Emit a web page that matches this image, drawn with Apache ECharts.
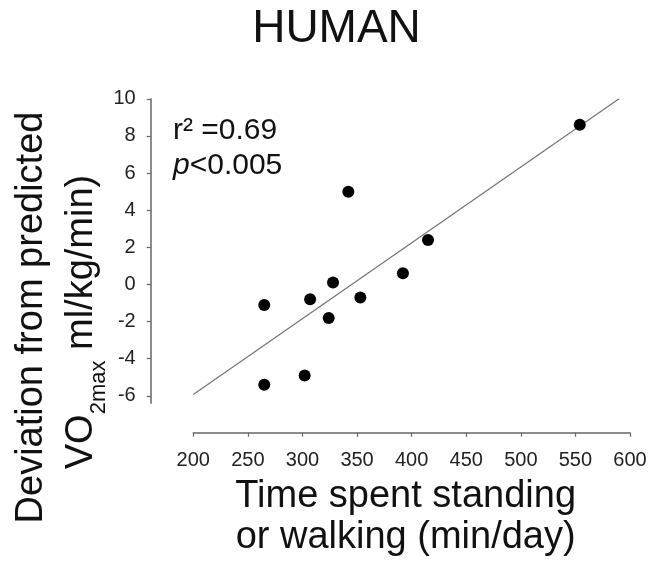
<!DOCTYPE html>
<html>
<head>
<meta charset="utf-8">
<script src="https://cdn.jsdelivr.net/npm/echarts@6/dist/echarts.min.js"></script>
<style>
html,body{margin:0;padding:0;background:#fff;}
#chart{width:658px;height:563px;}
</style>
</head>
<body>
<div id="chart"></div>
<script>
// ---- data ----
const timeStanding = [265, 265, 302, 307, 324, 328, 342, 353, 392, 415, 554];
const vo2Deviation = [-1.1, -5.4, -4.9, -0.8, -1.8, 0.1, 5.0, -0.7, 0.6, 2.4, 8.6];
const fitX = [200, 590];
const fitY = [-5.93, 10.0];
const yTickValues = [-6, -4, -2, 0, 2, 4, 6, 8, 10];
const titleText = 'HUMAN';
const statLine1 = 'r² =0.69';
const statLine2 = '{i|p}<0.005';
const xName = 'Time spent standing\nor walking (min/day)';
const yNameLine1 = 'Deviation from predicted';
const yNameLine2 = '{a|VO}{s|2max}{a| ml/kg/min)}';

const FONT = '"Liberation Sans", Arial, Helvetica, sans-serif';
const chart = echarts.init(document.getElementById('chart'), null, {renderer: 'canvas'});

const scatterData = timeStanding.map((x, i) => [x, vo2Deviation[i]]);
const fitData = fitX.map((x, i) => [x, fitY[i]]);

const option = {
  animation: false,
  backgroundColor: '#fff',
  textStyle: {fontFamily: FONT},
  grid: {left: 193.3, right: 28, top: 98.8, bottom: 159.7, containLabel: false},
  xAxis: {
    type: 'value', min: 200, max: 600, interval: 50, offset: 29.4,
    axisLine: {show: true, onZero: false, lineStyle: {color: '#666', width: 1.5}},
    axisTick: {show: true, length: 4, lineStyle: {color: '#666', width: 1.2}},
    axisLabel: {fontSize: 20, color: '#222', margin: 18, fontFamily: FONT},
    splitLine: {show: false},
    name: xName, nameLocation: 'middle', nameGap: 40,
    nameTextStyle: {fontSize: 38, lineHeight: 41, color: '#111', fontFamily: FONT, padding: [0, 12, 0, 0]}
  },
  yAxis: {
    type: 'value', min: -6.4, max: 10, offset: 42.6,
    axisLine: {show: true, onZero: false, lineStyle: {color: '#666', width: 1.5}},
    axisTick: {show: true, length: 4, customValues: yTickValues, lineStyle: {color: '#666', width: 1.2}},
    axisLabel: {fontSize: 20, color: '#222', margin: 15, customValues: yTickValues, fontFamily: FONT},
    splitLine: {show: false}
  },
  graphic: [
    {type: 'text', x: 336.5, y: 29, style: {text: titleText, fontSize: 46, fontFamily: FONT, fill: '#111', align: 'center', verticalAlign: 'middle'}},
    {type: 'text', x: 173, y: 131, style: {text: statLine1, fontSize: 30, fontFamily: FONT, fill: '#111', align: 'left', verticalAlign: 'middle'}},
    {type: 'text', x: 173, y: 166, style: {text: statLine2, fontSize: 30, fontFamily: FONT, fill: '#111', align: 'left', verticalAlign: 'middle',
      rich: {i: {fontStyle: 'italic', fontSize: 30, fontFamily: FONT, fill: '#111'}}}},
    {type: 'text', x: 32, y: 317.5, rotation: Math.PI / 2, style: {text: yNameLine1, fontSize: 38, fontFamily: FONT, fill: '#111', align: 'center', verticalAlign: 'middle'}},
    {type: 'text', x: 82, y: 322, rotation: Math.PI / 2, style: {text: yNameLine2, fontSize: 38, fontFamily: FONT, fill: '#111', align: 'center', verticalAlign: 'middle',
      rich: {
        a: {fontSize: 38, fontFamily: FONT, fill: '#111', lineHeight: 40, verticalAlign: 'middle'},
        s: {fontSize: 22, fontFamily: FONT, fill: '#111', lineHeight: 56, verticalAlign: 'bottom'}
      }}}
  ],
  series: [
    {type: 'line', data: fitData, showSymbol: false, symbol: 'none', silent: true, z: 1,
      lineStyle: {color: '#777', width: 1.3}},
    {type: 'scatter', data: scatterData, symbol: 'circle', symbolSize: 12, z: 3,
      itemStyle: {color: '#000', opacity: 1}}
  ]
};
chart.setOption(option);
</script>
</body>
</html>
